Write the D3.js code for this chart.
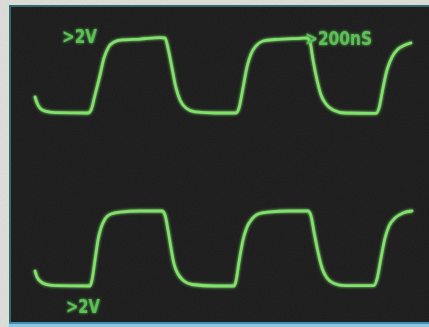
<!DOCTYPE html>
<html><head><meta charset="utf-8">
<script src="https://cdn.jsdelivr.net/npm/d3@7"></script>
<style>html,body{margin:0;padding:0;background:#e2e2de;}svg{display:block;}</style>
</head><body>
<script>
// time in ns (200 ns/div), voltage in V (2 V/div)
const timeTop = [120,130,145,170,220,385,400,420,445,465,485,515,555,645,745,770,785,805,825,845,875,920,1020,1125,1140,1160,1180,1200,1225,1260,1320,1445,1480,1495,1510,1530,1550,1575,1610,1670,1825,1840,1860,1880,1905,1935,1970,2000];
const voltTop = [1.07,0.67,0.33,0.13,0.03,0,0.2,1.2,2.53,3.67,4.33,4.73,4.87,4.93,5.02,5.0,4.33,3.0,1.67,0.87,0.33,0.07,0,0,0.33,1.67,3.07,3.93,4.47,4.8,4.9,4.98,5.0,4.73,3.53,2.2,1.2,0.6,0.2,0,-0.03,0.33,1.67,2.87,3.73,4.27,4.53,4.67];
const timeBottom = [120,130,145,170,220,395,405,420,435,450,470,500,545,645,755,770,785,800,815,835,865,905,1020,1115,1125,1140,1160,1180,1205,1235,1285,1395,1485,1500,1515,1535,1555,1580,1615,1670,1815,1830,1850,1870,1890,1920,1960,2005];
const voltBottom = [1.0,0.6,0.33,0.13,0.03,0,0.4,1.73,3.07,3.87,4.47,4.8,4.93,5.0,5.0,4.73,3.73,2.53,1.47,0.8,0.33,0.1,0,0,0.33,1.6,3.07,3.93,4.47,4.8,4.93,5.0,5.0,4.67,3.6,2.27,1.2,0.53,0.17,0.03,0.03,0.47,1.87,3.2,4.0,4.53,4.87,5.0];
const labels = ["\u003E2V", "\u003E200nS", "\u003E2V"];

const W = 429, H = 327;
const svg = d3.select("body").append("svg").attr("width", W).attr("height", H);
const defs = svg.append("defs");
const glow = defs.append("filter").attr("id","glow").attr("x","-10%").attr("y","-10%").attr("width","120%").attr("height","120%");
glow.append("feGaussianBlur").attr("in","SourceGraphic").attr("stdDeviation",1.4).attr("result","b");
const m = glow.append("feMerge");
m.append("feMergeNode").attr("in","b");
m.append("feMergeNode").attr("in","SourceGraphic");
const noise = defs.append("filter").attr("id","noise");
noise.append("feTurbulence").attr("type","fractalNoise").attr("baseFrequency",0.9).attr("numOctaves",2).attr("seed",3);
noise.append("feColorMatrix").attr("values","0 0 0 0 0.2  0 0 0 0 0.21  0 0 0 0 0.2  0 0 0 0.3 0");

// frame
svg.append("rect").attr("width",W).attr("height",H).attr("fill","#e0e0dc");
svg.append("rect").attr("x",9).attr("y",5).attr("width",W-9).attr("height",318).attr("fill","#2c6a6c");
svg.append("rect").attr("x",11).attr("y",7).attr("width",W-11).attr("height",315).attr("fill","#1a1b1a");
svg.append("rect").attr("x",11).attr("y",7).attr("width",W-11).attr("height",315).attr("filter","url(#noise)").attr("opacity",0.35);
svg.append("rect").attr("x",9).attr("y",322).attr("width",W-9).attr("height",2).attr("fill","#3f8fb4");
svg.append("rect").attr("x",9).attr("y",324).attr("width",W-9).attr("height",3).attr("fill","#8cc9e0");

const x = d3.scaleLinear().domain([0, 2090]).range([11, 429]);
const y1 = d3.scaleLinear().domain([0, 5]).range([113, 38]);
const y2 = d3.scaleLinear().domain([0, 5]).range([286, 211]);

const traceColor = "#82e06c";
function trace(ts, vs, ys) {
  const pts = ts.map((t,i)=>[t, vs[i]]);
  const line = d3.line().x(d=>x(d[0])).y(d=>ys(d[1])).curve(d3.curveMonotoneX);
  svg.append("path").attr("d", line(pts)).attr("fill","none")
    .attr("stroke", traceColor).attr("stroke-width", 2.8)
    .attr("stroke-linecap","round").attr("stroke-linejoin","round")
    .attr("filter","url(#glow)");
}
trace(timeTop, voltTop, y1);
trace(timeBottom, voltBottom, y2);

const lab = svg.append("g").attr("font-family","DejaVu Sans").attr("font-weight","bold")
  .attr("fill","#5cc057").attr("font-size",19).attr("filter","url(#glow)");
lab.append("text").attr("x",62).attr("y",43).attr("textLength",35).attr("lengthAdjust","spacingAndGlyphs").text(labels[0]);
lab.append("text").attr("x",305).attr("y",45).attr("font-size",20).attr("textLength",67).attr("lengthAdjust","spacingAndGlyphs").text(labels[1]);
lab.append("text").attr("x",66).attr("y",313).attr("textLength",34).attr("lengthAdjust","spacingAndGlyphs").text(labels[2]);
</script>
</body></html>
